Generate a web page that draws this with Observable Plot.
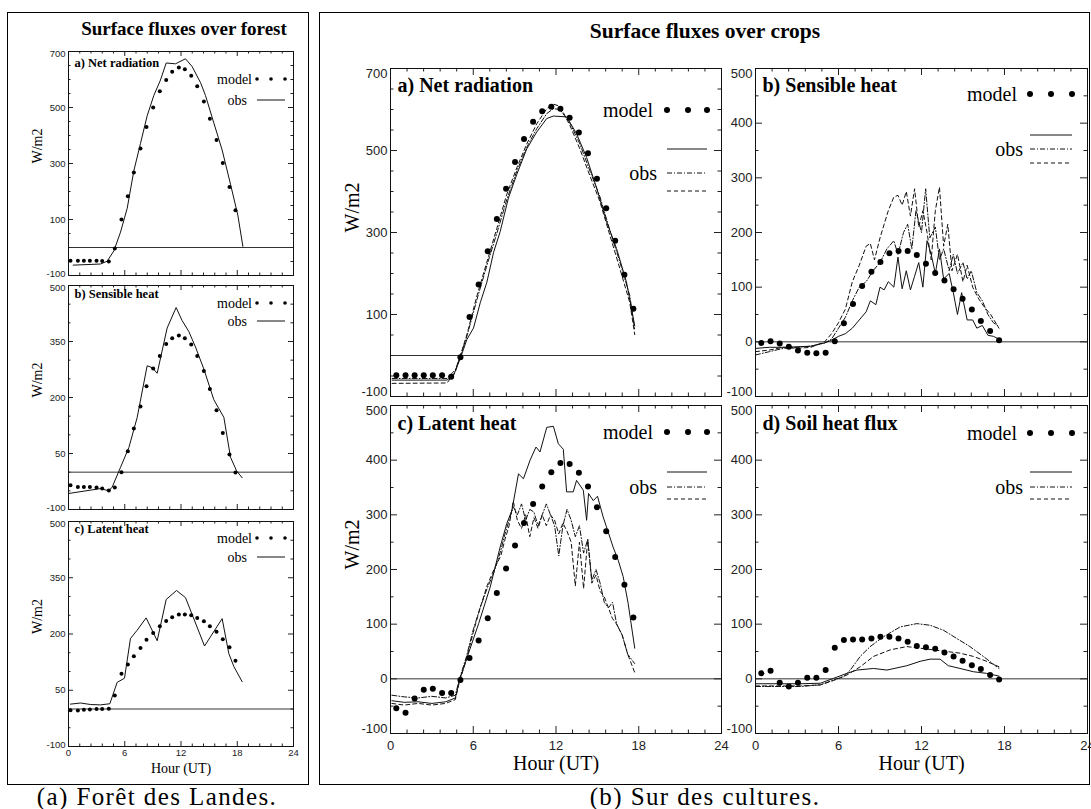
<!DOCTYPE html>
<html><head><meta charset="utf-8">
<script src="https://cdn.jsdelivr.net/npm/d3@7"></script>
<script src="https://cdn.jsdelivr.net/npm/@observablehq/plot@0.6"></script>
<style>
body{margin:0;background:#fff;}
#fig{position:relative;width:1091px;height:809px;background:#fff;overflow:hidden;}
.box{position:absolute;border:1.5px solid #000;box-sizing:border-box;}
.t{position:absolute;white-space:nowrap;transform:translate(-50%,-50%);color:#000;font-family:"Liberation Serif","DejaVu Serif",serif;}
</style></head><body><div id="fig"></div>
<script>
// ---------- tick labels ----------
const hoursMajor = [0, 6, 12, 18, 24];
const forestTicksA = [-100, 100, 300, 500, 700];
const forestTicksBC = [-100, 50, 200, 350, 500];
const cropTicksA = [-100, 100, 300, 500, 700];
const cropTicksBCD = [-100, 0, 100, 200, 300, 400, 500];

// ---------- forest (a) ----------
const forestModelHours = [0.21,1.0,1.64,2.28,2.99,3.59,4.30,4.94,5.65,6.33,6.97,7.68,8.32,9.03,9.74,10.42,11.06,11.77,12.41,13.09,13.73,14.44,15.08,15.79,16.46,17.17,17.81];
const forestNetModel = [-47,-47,-47,-47,-47,-48,-50,-4,100,183,268,354,430,500,558,598,628,643,637,613,576,521,460,384,302,216,133];
const forestNetObsHours = [0.5,3.41,4.12,4.84,5.55,6.26,6.97,7.68,8.39,9.1,9.81,10.42,11.41,12.48,13.19,14.08,14.61,15.5,16.39,17.28,18.06,18.6];
const forestNetObs = [-63,-59,-49,-12,55,140,274,372,470,543,598,659,656,674,646,589,543,445,348,226,116,4];

const forestSensModel = [-35,-40,-40,-40,-41,-44,-49,-41,0,56,117,176,230,278,311,343,359,366,359,342,311,271,223,166,105,47,-1];
const forestSensObsHours = [0.05,3.41,4.3,4.66,5.55,6.44,7.32,8.39,8.92,9.46,10.52,11.48,12.12,12.83,13.55,14.44,15.5,16.57,17.28,17.92,18.52];
const forestSensObs = [-57,-44,-50,-40,13,66,146,285,280,265,386,441,406,377,335,276,194,147,40,4,-15];

const forestLatModel = [-3,-4,-2,-1,0,0,1,36,94,119,141,163,185,203,221,235,245,252,252,250,243,234,221,206,186,165,129];
const forestLatObsHours = [0.21,1.28,2.35,3.41,4.41,5.19,5.97,6.61,7.32,8.28,9.46,10.42,11.52,12.48,14.51,16.39,17.1,17.64,18.52];
const forestLatObs = [13,16,12,11,14,71,82,188,210,243,182,292,316,297,168,241,148,113,73];

// ---------- crops (b) ----------
const cropModelHours = [0.42,1.09,1.75,2.41,3.07,3.74,4.40,5.07,5.73,6.39,7.05,7.71,8.38,9.03,9.68,10.34,11.0,11.66,12.32,12.99,13.66,14.32,14.97,15.64,16.29,16.96,17.61];

const cropNetModel = [-48,-48,-48,-48,-48,-48,-52,-4,94,173,254,333,407,472,528,570,596,607,602,580,544,493,431,359,280,197,114];
const cropNetSolidHours = [0.12,4.1,4.58,5.06,5.54,6.02,6.51,6.99,7.47,7.95,8.55,9.16,9.88,10.6,11.33,11.81,12.77,13.49,14.22,14.94,15.66,16.39,17.11,17.71];
const cropNetSolid = [-60,-60,-48,-7,39,67,129,179,251,302,384,442,504,545,578,584,582,541,483,409,327,261,179,72];
const cropNetOtherHours = [0.12,4.1,4.7,5.06,5.54,6.27,6.99,7.71,8.43,9.16,9.88,10.6,11.33,11.81,12.29,13.01,13.73,14.46,15.18,15.9,16.63,17.35,17.71];
const cropNetDashDot = [-56,-56,-35,-1,47,137,220,298,380,450,508,553,590,602,600,567,516,450,388,306,228,146,63];
const cropNetDashed = [-68,-67,-40,-1,51,146,228,310,393,458,516,565,602,613,608,561,504,438,376,294,212,129,51];

const cropSensModel = [-2,1,-3,-9,-16,-20,-21,-20,1,34,69,102,128,146,162,166,166,159,143,126,112,96,79,59,38,20,3];
const cropSensSolidHours = [0,1,2,3,4,5,5.5,6,6.5,7,7.5,8,8.3,8.7,9,9.3,9.6,10,10.3,10.6,10.9,11.2,11.5,11.8,12.1,12.4,12.7,13.0,13.3,13.6,14.0,14.3,14.6,14.9,15.3,15.7,16.0,16.4,16.8,17.2,17.6];
const cropSensSolid = [-12,-10,-10,-9,-8,-2,3,10,15,25,40,55,75,68,100,95,110,100,155,97,130,95,120,145,100,185,160,125,170,115,125,90,50,90,40,40,25,30,12,10,5];
const cropSensDashDotHours = [0,1,2,3,4,5,5.5,6,6.5,7,7.5,8,8.5,9,9.5,10,10.3,10.7,11,11.3,11.6,12,12.3,12.6,13,13.3,13.6,14,14.3,14.6,15,15.3,15.6,16,16.4,16.8,17.2,17.6];
const cropSensDashDot = [-24,-18,-12,-10,-8,-2,5,25,45,75,100,110,130,145,170,185,160,200,215,170,240,200,280,190,210,150,170,130,160,125,145,115,130,90,75,50,35,28];
const cropSensDashedHours = [0,1,2,3,4,5,5.5,6,6.5,7,7.5,8,8.3,8.6,9,9.3,9.6,10,10.3,10.6,10.9,11.2,11.5,11.8,12.1,12.4,12.7,13.0,13.3,13.6,13.9,14.2,14.6,15.0,15.3,15.7,16.1,16.5,17.0,17.6];
const cropSensDashed = [-18,-15,-10,-12,-10,0,15,35,60,110,140,175,180,150,190,215,240,265,268,250,275,230,280,210,240,200,150,240,283,175,215,130,160,110,140,100,80,65,50,25];

const cropLatModel = [-54,-62,-36,-20,-18,-26,-26,-2,38,70,111,157,202,244,285,320,352,378,395,393,377,352,314,270,223,172,112];
const cropLatSolidHours = [0.1,1,2,3,4,4.7,5.01,5.66,6.39,7.23,7.95,8.43,8.8,9.28,9.64,10.12,10.55,10.84,11.33,11.81,12.17,12.53,12.77,13.25,13.49,13.98,14.22,14.36,14.7,15.01,15.42,15.66,16.14,16.51,16.87,17.23,17.71];
const cropLatSolid = [-40,-43,-42,-45,-42,-35,-2,47,101,168,241,284,308,375,366,400,424,415,460,462,430,420,342,342,363,345,290,339,326,334,296,278,241,217,187,138,56];
const cropLatOtherHours = [0.1,1,2,3,4,4.7,5.0,5.5,6,6.5,7,7.5,8,8.3,8.6,8.9,9.2,9.5,9.8,10.1,10.4,10.7,11,11.3,11.6,11.9,12.2,12.5,12.8,13.1,13.4,13.7,14.0,14.3,14.6,14.9,15.2,15.5,15.8,16.1,16.4,16.8,17.2,17.7];
const cropLatDashDot = [-30,-33,-35,-32,-35,-30,0,40,90,130,165,195,235,265,290,315,300,320,290,310,305,280,300,320,300,280,225,280,310,290,260,280,230,255,180,200,175,140,130,140,100,80,45,28];
const cropLatDashed = [-45,-48,-45,-48,-45,-38,-5,35,85,130,170,200,225,255,280,325,290,275,300,260,295,275,300,280,300,290,265,285,270,250,170,250,165,255,175,190,160,150,130,110,100,80,45,12];

const cropSoilModel = [10,15,-7,-14,-7,2,2,16,57,71,72,72,74,77,77,74,68,60,58,55,48,41,33,25,18,7,-1];
const cropSoilSolidHours = [0,3.25,4.69,5.65,6.61,7.33,8.53,9.5,10.94,11.9,12.62,13.34,13.94,14.78,15.75,16.71,17.6];
const cropSoilSolid = [-9,-9,-8,1,10,16,19,16,24,32,36,36,24,19,13,10,5];
const cropSoilDashDotHours = [0,3.25,4.69,5.65,6.37,6.85,7.57,8.29,9.25,10.46,11.66,12.62,13.58,14.54,15.5,16.47,17.6];
const cropSoilDashDot = [-14,-14,-11,-2,4,16,41,59,77,95,101,98,89,74,59,41,19];
const cropSoilDashedHours = [0,3.25,4.69,5.65,6.61,7.57,8.53,9.74,10.94,11.9,12.86,13.82,14.78,15.75,16.71,17.6];
const cropSoilDashed = [-13,-13,-11,-3,7,22,41,53,59,56,53,50,47,41,32,22];

// ---------- drawing ----------
const SERIF = "Liberation Serif, DejaVu Serif, serif";
const SANS = "Liberation Sans, DejaVu Sans, sans-serif";
const DASHDOT = "5,2,1,2";
const DASHED = "4,3";
const fig = document.getElementById("fig");
const fmt = d => String(d);
const pts = (h, v) => h.map((x, i) => ({h: x, v: v[i]}));

function legendMark(lg) {
  return (index, scales, values, dims) => {
    const R = dims.width - dims.marginRight, T = dims.marginTop;
    const g = d3.create("svg:g").attr("font-size", lg.fs).attr("fill", "#000").style("font-family", SERIF);
    g.append("text").attr("x", R + lg.modelX).attr("y", T + lg.modelY).attr("dy", "0.35em").attr("text-anchor", "end").text("model");
    lg.dots.forEach(dx => g.append("circle").attr("cx", R + dx).attr("cy", T + lg.modelY).attr("r", lg.r));
    g.append("text").attr("x", R + lg.obsX).attr("y", T + lg.obsY).attr("dy", "0.35em").attr("text-anchor", "end").text("obs");
    lg.lines.forEach(([dy, dash]) => g.append("line")
      .attr("x1", R + lg.dots[0]).attr("x2", R + lg.dots[lg.dots.length - 1])
      .attr("y1", T + dy).attr("y2", T + dy)
      .attr("stroke", "#111").attr("stroke-width", 1).attr("stroke-dasharray", dash));
    return g.node();
  };
}

function panel(c) {
  const W = c.R - c.L, H = c.B - c.T;
  const mL = 60, mR = 6, mT = 6, mB = 44;
  const yMinor = d3.range(c.y[0], c.y[1] + 1e-9, 50).filter(v => !c.ticks.includes(v));
  const xMinor = d3.range(0, 24 + 1e-9, 1.2).filter(v => !hoursMajor.some(m => Math.abs(m - v) < 1e-6));
  const tk = c.tick, tm = c.tick / 2, ts = "#222";
  const yMax = c.y[1], yMin = c.y[0];
  const marks = [
    Plot.ruleY([0], {stroke: "#333", strokeWidth: 1}),
    Plot.tickX(hoursMajor, {x: d => d, insetTop: H - tk, stroke: ts}),
    Plot.tickX(hoursMajor, {x: d => d, insetBottom: H - tk, stroke: ts}),
    Plot.tickX(xMinor, {x: d => d, insetTop: H - tm, stroke: ts}),
    Plot.tickX(xMinor, {x: d => d, insetBottom: H - tm, stroke: ts}),
    Plot.tickY(c.ticks, {y: d => d, insetRight: W - tk, stroke: ts}),
    Plot.tickY(c.ticks, {y: d => d, insetLeft: W - tk, stroke: ts}),
    Plot.tickY(yMinor, {y: d => d, insetRight: W - tm, stroke: ts}),
    Plot.tickY(yMinor, {y: d => d, insetLeft: W - tm, stroke: ts}),
    Plot.frame({stroke: "#111", strokeWidth: 1}),
    Plot.text(c.ticks.filter(d => d !== yMax && d !== yMin), {y: d => d, text: fmt, frameAnchor: "left", textAnchor: "end", dx: -3, fontSize: c.tfs, fontFamily: SANS, fill: "#222"}),
    Plot.text([yMax], {y: d => d, text: fmt, frameAnchor: "left", textAnchor: "end", dx: -3, dy: c.endShift, fontSize: c.tfs, fontFamily: SANS, fill: "#222"}),
    Plot.text([yMin], {y: d => d, text: fmt, frameAnchor: "left", textAnchor: "end", dx: -3, dy: -c.endShift, fontSize: c.tfs, fontFamily: SANS, fill: "#222"}),
    ...c.obs.map(o => Plot.line(pts(o.h, o.v), {x: "h", y: "v", stroke: "#111", strokeWidth: 1, strokeDasharray: o.dash})),
    Plot.dot(pts(c.model.h, c.model.v), {x: "h", y: "v", r: c.r, fill: "#000", stroke: null}),
    Plot.text([c.title], {text: d => d, frameAnchor: "top-left", dx: c.titleDx, dy: c.titleDy, textAnchor: "start", lineAnchor: "middle", fontWeight: "bold", fontSize: c.titleFs, fontFamily: SERIF, fill: "#000"}),
    legendMark(c.legend)
  ];
  if (c.xlabels) {
    marks.push(Plot.text(hoursMajor, {x: d => d, text: d => String(d), frameAnchor: "bottom", lineAnchor: "top", dy: c.xPad, fontSize: c.tfs, fontFamily: SANS, fill: "#222"}));
    marks.push(Plot.text(["Hour (UT)"], {text: d => d, frameAnchor: "bottom", dy: c.xLabDy, lineAnchor: "middle", fontSize: c.labFs, fontFamily: SERIF, fill: "#000"}));
  }
  if (c.ylabel) {
    marks.push(Plot.text(["W/m2"], {text: d => d, frameAnchor: "left", dx: c.yLabDx, rotate: -90, lineAnchor: "middle", fontSize: c.labFs, fontFamily: SERIF, fill: "#000"}));
  }
  const svg = Plot.plot({
    width: W + mL + mR, height: H + mT + mB,
    marginLeft: mL, marginRight: mR, marginTop: mT, marginBottom: mB,
    x: {domain: [0, 24], axis: null},
    y: {domain: c.y, axis: null},
    style: {background: "transparent", overflow: "visible"},
    marks
  });
  svg.style.position = "absolute";
  svg.style.left = (c.L - mL) + "px";
  svg.style.top = (c.T - mT) + "px";
  fig.appendChild(svg);
}

function addDiv(cls, css, text) {
  const d = document.createElement("div");
  d.className = cls; d.style.cssText = css; if (text) d.textContent = text;
  fig.appendChild(d);
}

// outer boxes
addDiv("box", "left:7px;top:12px;width:302px;height:773px;");
addDiv("box", "left:319px;top:12px;width:771px;height:773px;");

// titles and captions
addDiv("t", "left:184px;top:29px;font-size:19px;font-weight:bold;", "Surface fluxes over forest");
addDiv("t", "left:705px;top:31px;font-size:21.5px;font-weight:bold;", "Surface fluxes over crops");
addDiv("t", "left:157px;top:797px;font-size:25px;letter-spacing:1.4px;", "(a) Forêt des Landes.");
addDiv("t", "left:705px;top:797px;font-size:25px;letter-spacing:1.4px;", "(b) Sur des cultures.");

// forest panels
const fLeg = (my, oy) => ({fs: 14, modelX: -41, modelY: my, dots: [-36, -22, -8], r: 1.8, obsX: -46, obsY: oy, lines: [[oy, null]]});
const forestBase = {L: 68, R: 293, tick: 5, tfs: 9.5, r: 2, titleDx: 6, titleFs: 12.5, labFs: 14, yLabDx: -31, xPad: 3, xLabDy: 22, ylabel: true, endShift: 2};
panel({...forestBase, T: 51, B: 275, y: [-100, 700], ticks: forestTicksA, title: "a) Net radiation", titleDy: 11,
  model: {h: forestModelHours, v: forestNetModel}, obs: [{h: forestNetObsHours, v: forestNetObs, dash: null}], legend: fLeg(28, 49)});
panel({...forestBase, T: 285, B: 509, y: [-100, 500], ticks: forestTicksBC, title: "b) Sensible heat", titleDy: 8,
  model: {h: forestModelHours, v: forestSensModel}, obs: [{h: forestSensObsHours, v: forestSensObs, dash: null}], legend: fLeg(18, 36)});
panel({...forestBase, T: 521, B: 746, y: [-100, 500], ticks: forestTicksBC, title: "c) Latent heat", titleDy: 7, xlabels: true,
  model: {h: forestModelHours, v: forestLatModel}, obs: [{h: forestLatObsHours, v: forestLatObs, dash: null}], legend: fLeg(17, 36)});

// crop panels
const cLegL = (my, l1, l2, l3) => ({fs: 20, modelX: -68, modelY: my, dots: [-54, -33, -14], r: 3, obsX: -64, obsY: l2, lines: [[l1, null], [l2, DASHDOT], [l3, DASHED]]});
const cLegR = (my, l1, l2, l3) => ({fs: 20, modelX: -70, modelY: my, dots: [-57, -36, -15], r: 3, obsX: -64, obsY: l2, lines: [[l1, null], [l2, DASHDOT], [l3, DASHED]]});
const cropBase = {tick: 7, tfs: 13, r: 3, titleDx: 7, titleFs: 20, labFs: 20, yLabDx: -38, xPad: 7, xLabDy: 30, endShift: 5};
panel({...cropBase, L: 390, R: 721, T: 68, B: 396, y: [-100, 700], ticks: cropTicksA, title: "a) Net radiation", titleDy: 17, ylabel: true,
  model: {h: cropModelHours, v: cropNetModel},
  obs: [{h: cropNetSolidHours, v: cropNetSolid, dash: null}, {h: cropNetOtherHours, v: cropNetDashDot, dash: DASHDOT}, {h: cropNetOtherHours, v: cropNetDashed, dash: DASHED}],
  legend: cLegL(42, 81, 105, 123)});
panel({...cropBase, L: 755, R: 1087, T: 68, B: 396, y: [-100, 500], ticks: cropTicksBCD, title: "b) Sensible heat", titleDy: 17,
  model: {h: cropModelHours, v: cropSensModel},
  obs: [{h: cropSensSolidHours, v: cropSensSolid, dash: null}, {h: cropSensDashDotHours, v: cropSensDashDot, dash: DASHDOT}, {h: cropSensDashedHours, v: cropSensDashed, dash: DASHED}],
  legend: cLegR(26, 67, 81, 95)});
panel({...cropBase, L: 390, R: 721, T: 405, B: 733, y: [-100, 500], ticks: cropTicksBCD, title: "c) Latent heat", titleDy: 18, ylabel: true, xlabels: true,
  model: {h: cropModelHours, v: cropLatModel},
  obs: [{h: cropLatSolidHours, v: cropLatSolid, dash: null}, {h: cropLatOtherHours, v: cropLatDashDot, dash: DASHDOT}, {h: cropLatOtherHours, v: cropLatDashed, dash: DASHED}],
  legend: cLegL(27, 67, 82, 94)});
panel({...cropBase, L: 755, R: 1087, T: 405, B: 733, y: [-100, 500], ticks: cropTicksBCD, title: "d) Soil heat flux", titleDy: 18, xlabels: true,
  model: {h: cropModelHours, v: cropSoilModel},
  obs: [{h: cropSoilSolidHours, v: cropSoilSolid, dash: null}, {h: cropSoilDashDotHours, v: cropSoilDashDot, dash: DASHDOT}, {h: cropSoilDashedHours, v: cropSoilDashed, dash: DASHED}],
  legend: cLegR(28, 67, 82, 94)});
</script></body></html>
